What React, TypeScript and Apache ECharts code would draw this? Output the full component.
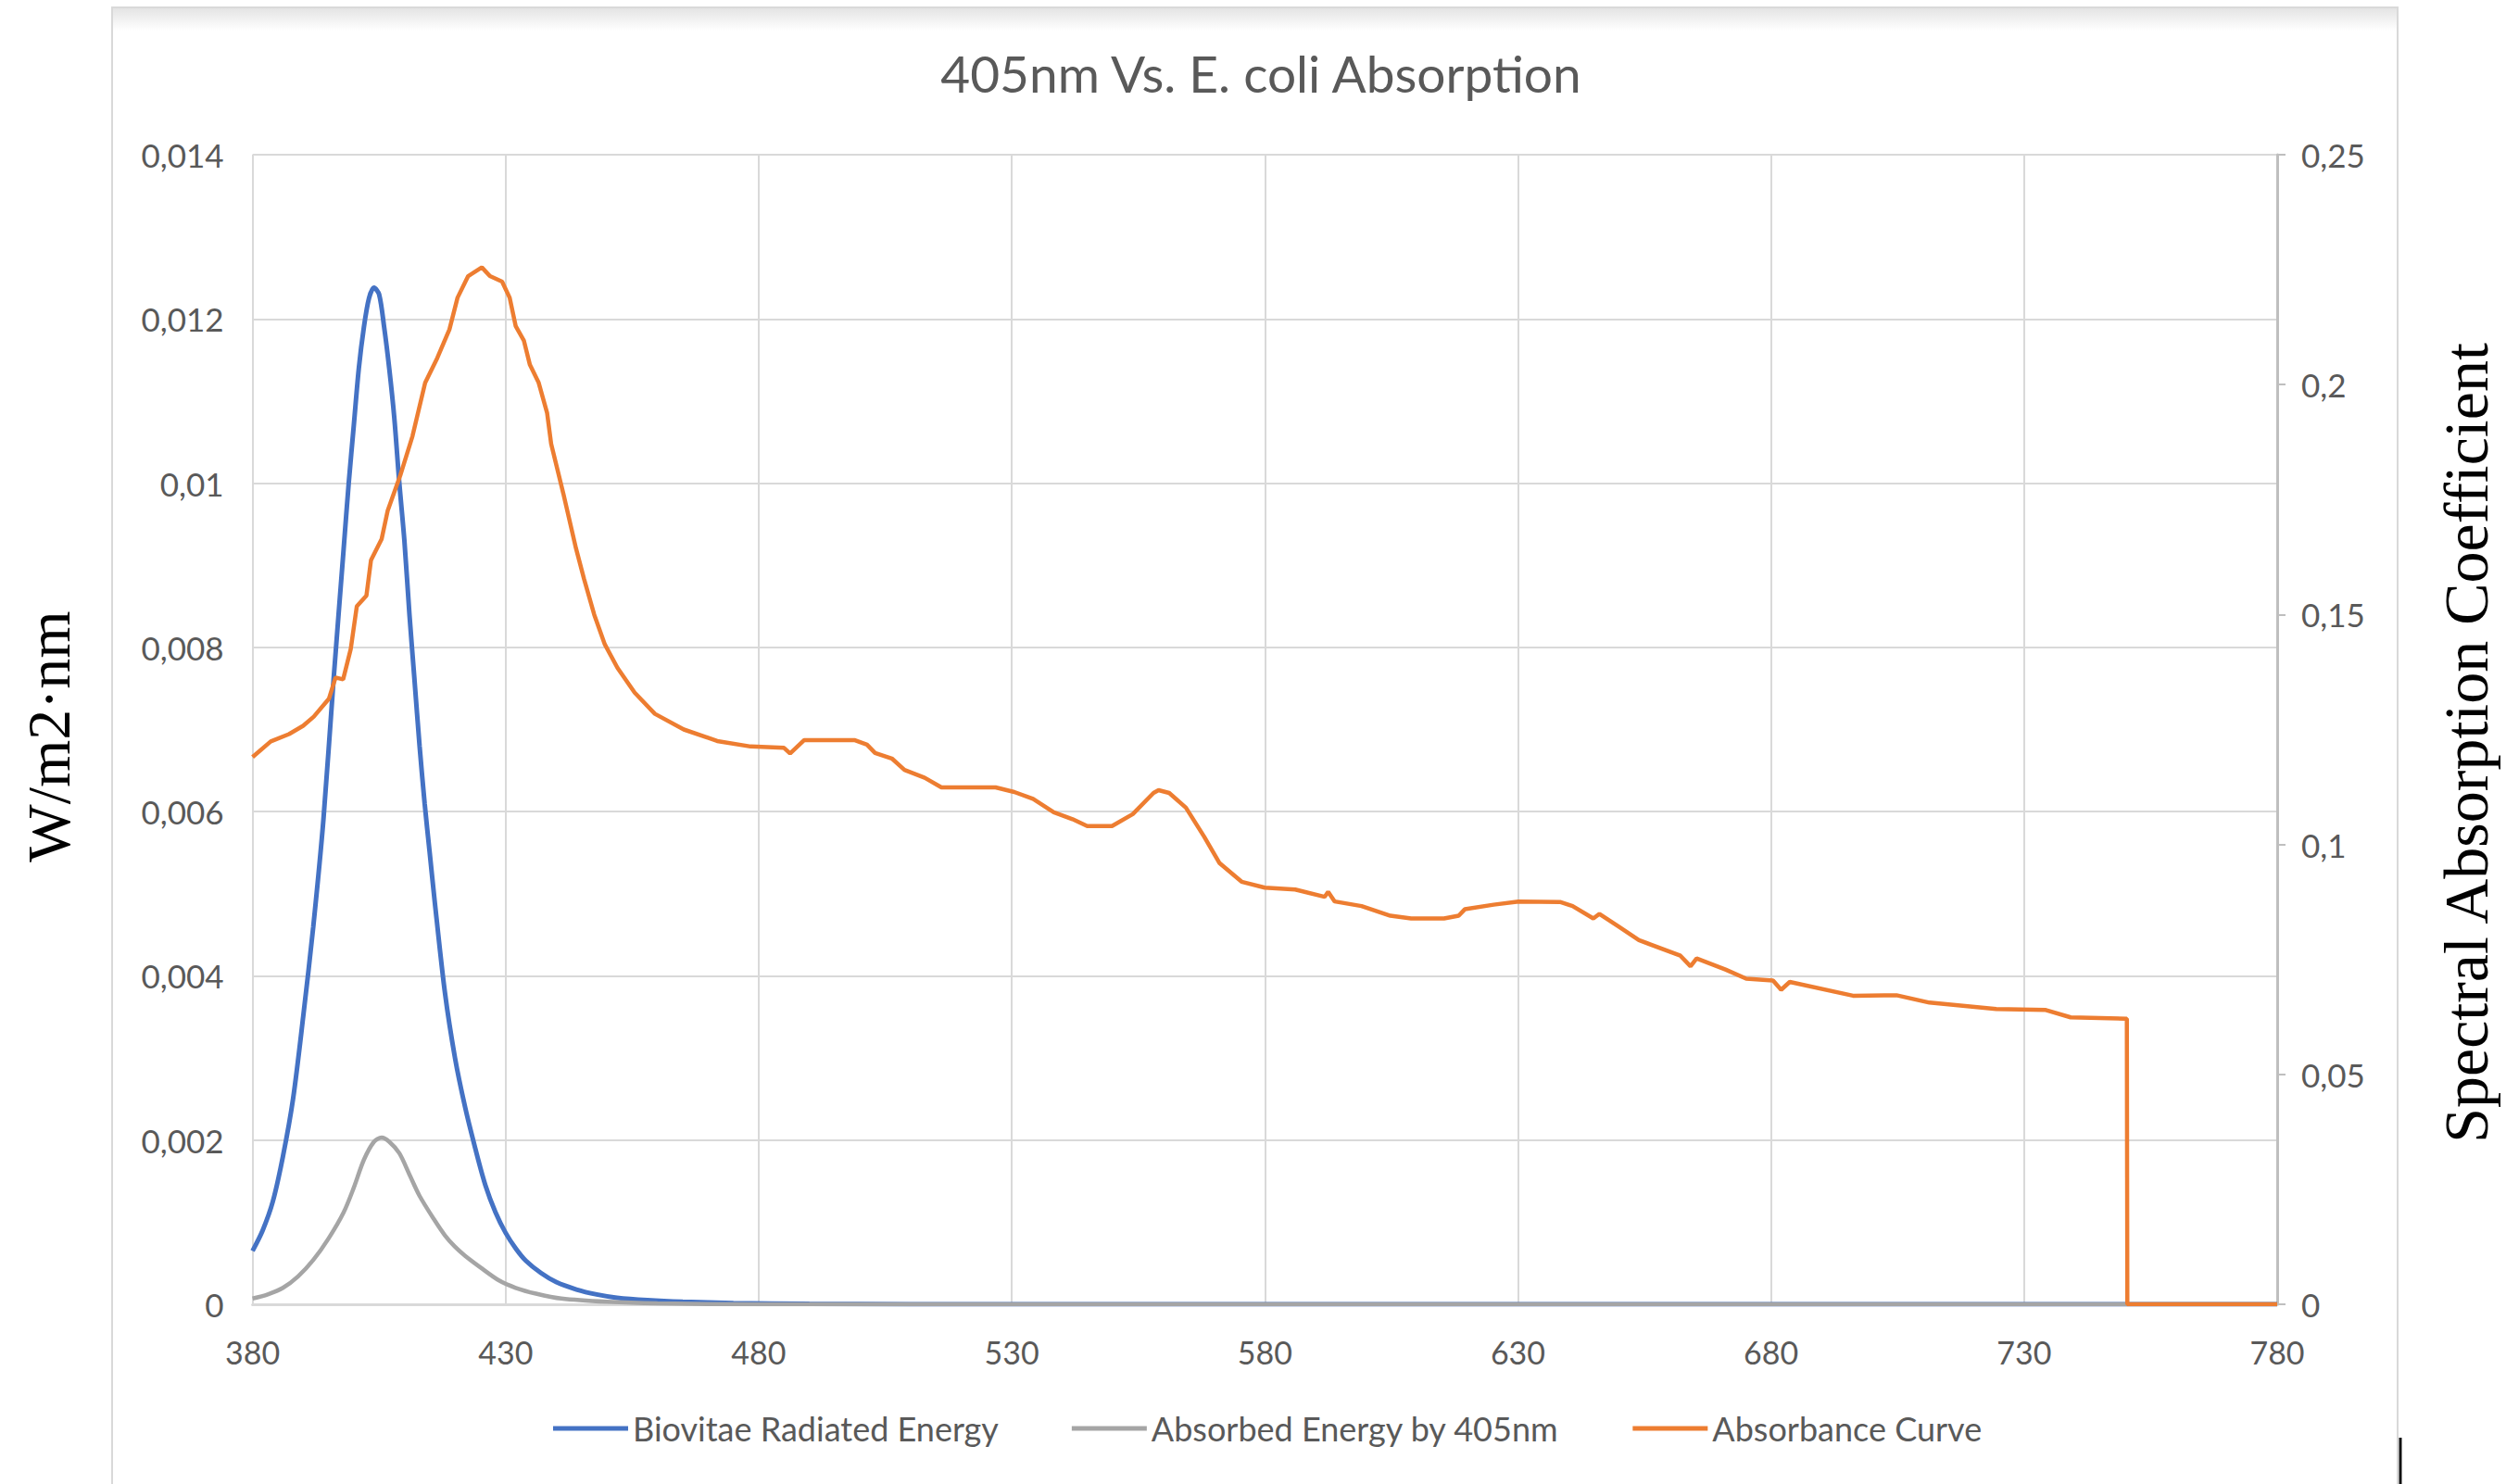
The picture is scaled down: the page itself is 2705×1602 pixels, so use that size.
import React, { useEffect, useRef } from "react";
import * as echarts from "echarts";

// ---- Data ----
const blueWavelengths = [380, 382, 384, 386, 388, 390, 392, 394, 396, 398, 399, 400, 401, 402, 403, 404, 405, 406, 407, 408, 409, 410, 411, 412, 413, 414, 415, 416, 418, 420, 422, 424, 426, 428, 430, 432, 434, 437, 440, 444, 448, 452, 458, 465, 475, 490, 510, 600, 700, 780];
const blueValues = [0.00065, 0.0009, 0.00125, 0.0018, 0.0025, 0.0035, 0.0046, 0.0059, 0.0076, 0.0092, 0.01, 0.0107, 0.0114, 0.0119, 0.01225, 0.01238, 0.0123, 0.0119, 0.0114, 0.0108, 0.01, 0.0093, 0.0084, 0.0076, 0.0068, 0.0061, 0.0055, 0.0049, 0.0038, 0.003, 0.0024, 0.0019, 0.00145, 0.00112, 0.00087, 0.00068, 0.00053, 0.00038, 0.00027, 0.00018, 0.00012, 0.00008, 0.00005, 0.00003, 0.000015, 0.000005, 0, 0, 0, 0];

const grayWavelengths = [380, 383, 386, 389, 392, 395, 398, 400, 402, 404, 405.5, 407, 409, 411, 413, 416, 418, 420, 422, 425, 428.7, 432, 436, 441, 450, 460, 480, 600, 700, 780];
const grayValues = [0.00007, 0.00012, 0.0002, 0.00034, 0.00054, 0.0008, 0.00112, 0.00142, 0.00176, 0.00198, 0.00203, 0.00198, 0.00184, 0.00158, 0.00132, 0.00102, 0.00084, 0.0007, 0.00059, 0.00045, 0.00029, 0.0002, 0.00013, 0.00007, 0.00003, 0.00001, 0, 0, 0, 0];

const orangeWavelengths = [380, 383.6, 387.2, 390, 392.1, 395.1, 396.4, 397.9, 399.4, 400.6, 402.5, 403.4, 405.5, 406.7, 409.2, 411.6, 414.1, 416.5, 418.9, 420.5, 422.6, 425.3, 426.9, 429.3, 430.8, 432, 433.6, 434.8, 436.5, 438.2, 439, 441.4, 443.9, 445.5, 447.5, 449.6, 452.1, 455.5, 459.5, 465.2, 471.8, 478.4, 485, 486.2, 489, 498.9, 501.4, 503, 506.3, 508.8, 512.8, 516.1, 526.8, 530.5, 534.2, 538.3, 542, 544.9, 549.8, 553.9, 558, 559, 561.1, 564.4, 568, 571, 575.4, 580, 586, 591.8, 592.5, 593.8, 599.1, 604.8, 608.9, 615.4, 618.3, 619.5, 625.2, 630.1, 638.3, 640.8, 644.9, 646.1, 649.8, 653.9, 662.1, 664.1, 665.3, 671, 675.1, 680.4, 682, 683.7, 696.2, 704.8, 711.3, 724.5, 734.3, 739.2, 750.3, 750.4, 780];
const orangeValues = [0.119, 0.1224, 0.124, 0.1258, 0.1278, 0.1317, 0.1363, 0.1359, 0.1425, 0.1518, 0.1541, 0.1618, 0.1664, 0.1726, 0.1803, 0.1888, 0.2004, 0.2058, 0.212, 0.2189, 0.2236, 0.2255, 0.2236, 0.2224, 0.2189, 0.2127, 0.2096, 0.2043, 0.2005, 0.1938, 0.1871, 0.1763, 0.1644, 0.1577, 0.15, 0.1435, 0.1384, 0.133, 0.1284, 0.125, 0.1225, 0.1213, 0.121, 0.1198, 0.1227, 0.1227, 0.1217, 0.1199, 0.1187, 0.1162, 0.1145, 0.1124, 0.1124, 0.1114, 0.1099, 0.107, 0.1055, 0.104, 0.104, 0.1066, 0.1112, 0.1118, 0.1112, 0.108, 0.1017, 0.096, 0.0919, 0.0906, 0.0902, 0.0886, 0.0897, 0.0876, 0.0866, 0.0845, 0.0839, 0.0839, 0.0845, 0.0859, 0.0869, 0.0876, 0.0875, 0.0866, 0.0839, 0.0849, 0.0822, 0.0792, 0.0758, 0.0735, 0.0752, 0.0728, 0.0708, 0.0704, 0.0684, 0.0701, 0.0671, 0.0672, 0.0656, 0.0642, 0.064, 0.0624, 0.0621, 0, 0];

const seriesNames = ["Biovitae Radiated Energy", "Absorbed Energy by 405nm", "Absorbance Curve"];
const leftTickLabels = ["0", "0,002", "0,004", "0,006", "0,008", "0,01", "0,012", "0,014"];
const rightTickLabels = ["0", "0,05", "0,1", "0,15", "0,2", "0,25"];
const xTickLabels = ["380", "430", "480", "530", "580", "630", "680", "730", "780"];

const zip = (xs: number[], ys: number[]) => xs.map((x, i) => [x, ys[i]]);

export default function App() {
  const ref = useRef<HTMLDivElement>(null);
  useEffect(() => {
    if (!ref.current) return;
    const chart = echarts.init(ref.current, null, { renderer: "svg" });
    const labelColor = "#595959";
    const font = "Lato";
    chart.setOption({
      animation: false,
      backgroundColor: "#ffffff",
      title: {
        text: "405nm Vs. E. coli Absorption",
        left: 1356,
        top: 74,
        textAlign: "center",
        textVerticalAlign: "middle",
        textStyle: { color: labelColor, fontFamily: font, fontSize: 55, fontWeight: "normal" },
      },
      legend: {
        left: 592,
        top: 1519,
        itemGap: 79,
        itemWidth: 81,
        itemHeight: 5,
        icon: "rect",
        textStyle: { color: labelColor, fontFamily: font, fontSize: 36, padding: [0, 0, 0, 0] },
        data: seriesNames,
      },
      grid: { left: 272.6, right: 247, top: 167, bottom: 194, containLabel: false },
      xAxis: {
        type: "value",
        min: 380,
        max: 780,
        interval: 50,
        axisLine: { show: true, lineStyle: { color: "#d9d9d9", width: 3 } },
        axisTick: { show: false },
        axisLabel: {
          color: labelColor,
          fontFamily: font,
          fontSize: 34,
          margin: 34,
          formatter: (v: number) => xTickLabels[Math.round((v - 380) / 50)] ?? "",
        },
        splitLine: { show: true, lineStyle: { color: "#d9d9d9", width: 2 } },
      },
      yAxis: [
        {
          type: "value",
          min: 0,
          max: 0.014,
          interval: 0.002,
          axisLine: { show: false },
          axisTick: { show: false },
          axisLabel: {
            color: labelColor,
            fontFamily: font,
            fontSize: 35,
            margin: 31,
            formatter: (v: number) => leftTickLabels[Math.round(v / 0.002)] ?? "",
          },
          splitLine: { show: true, lineStyle: { color: "#d9d9d9", width: 2 } },
        },
        {
          type: "value",
          min: 0,
          max: 0.25,
          interval: 0.05,
          position: "right",
          axisLine: { show: true, lineStyle: { color: "#bfbfbf", width: 3 } },
          axisTick: { show: true, length: 9, lineStyle: { color: "#bfbfbf", width: 2 } },
          axisLabel: {
            color: labelColor,
            fontFamily: font,
            fontSize: 35,
            margin: 26,
            formatter: (v: number) => rightTickLabels[Math.round(v / 0.05)] ?? "",
          },
          splitLine: { show: false },
        },
      ],
      series: [
        {
          name: seriesNames[0],
          type: "line",
          data: zip(blueWavelengths, blueValues),
          showSymbol: false,
          smooth: 0.3,
          lineStyle: { color: "#4472C4", width: 5 },
          itemStyle: { color: "#4472C4" },
          yAxisIndex: 0,
        },
        {
          name: seriesNames[1],
          type: "line",
          data: zip(grayWavelengths, grayValues),
          showSymbol: false,
          smooth: 0.3,
          lineStyle: { color: "#A5A5A5", width: 4.5 },
          itemStyle: { color: "#A5A5A5" },
          yAxisIndex: 0,
        },
        {
          name: seriesNames[2],
          type: "line",
          data: zip(orangeWavelengths, orangeValues),
          showSymbol: false,
          smooth: false,
          lineStyle: { color: "#ED7D31", width: 4.5 },
          itemStyle: { color: "#ED7D31" },
          yAxisIndex: 1,
        },
      ],
      graphic: [
        {
          type: "rect",
          shape: { x: 121, y: 8, width: 2467, height: 1620 },
          style: { fill: "none", stroke: "#d9d9d9", lineWidth: 2 },
          silent: true,
          z: -1,
        },
        {
          type: "rect",
          shape: { x: 122, y: 9, width: 2465, height: 24 },
          style: {
            fill: new echarts.graphic.LinearGradient(0, 0, 0, 1, [
              { offset: 0, color: "#e4e4e4" },
              { offset: 1, color: "#ffffff" },
            ]),
          },
          silent: true,
          z: -1,
        },
        {
          type: "line",
          shape: { x1: 2591, y1: 1552, x2: 2591, y2: 1602 },
          style: { stroke: "#111111", lineWidth: 3 },
          silent: true,
        },
        {
          type: "text",
          x: 52,
          y: 795,
          rotation: Math.PI / 2,
          style: {
            text: "W/m2·nm",
            fill: "#000000",
            font: "66px 'Liberation Serif', 'Times New Roman', serif",
            textAlign: "center",
            textVerticalAlign: "middle",
          },
          silent: true,
        },
        {
          type: "text",
          x: 2662,
          y: 802,
          rotation: Math.PI / 2,
          style: {
            text: "Spectral Absorption Coefficient",
            fill: "#000000",
            font: "68px 'Liberation Serif', 'Times New Roman', serif",
            textAlign: "center",
            textVerticalAlign: "middle",
          },
          silent: true,
        },
      ],
    });
    return () => chart.dispose();
  }, []);
  return (
    <div
      ref={ref}
      style={{ position: "fixed", left: 0, top: 0, width: 2705, height: 1602 }}
    />
  );
}
